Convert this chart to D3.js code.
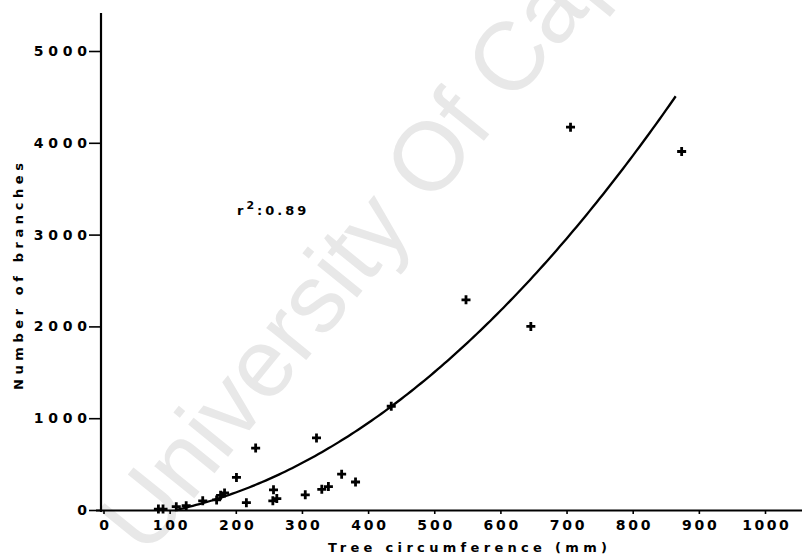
<!DOCTYPE html>
<html>
<head>
<meta charset="utf-8">
<script src="https://cdn.jsdelivr.net/npm/d3@7"></script>
<style>
  body { margin: 0; background: #fff; }
  svg { display: block; }
  .tick-label, .title, .stat { font-family: "DejaVu Sans", sans-serif; font-weight: bold; fill: #000; }
</style>
</head>
<body>
<svg id="chart" width="802" height="557"></svg>
<script>
// Tree circumference (mm) and number of branches per sampled tree
const circumference = [83, 90, 110, 125, 150, 171, 177, 183, 201, 216, 230, 257, 256, 262, 305, 322, 330, 340, 360, 381, 435, 548, 646, 706, 874];
const branches      = [10, 10, 36, 47, 100, 110, 160, 185, 355, 80, 675, 220, 100, 125, 165, 785, 225, 255, 390, 305, 1130, 2290, 2000, 4170, 3905];

// Axis ticks
const xTickValues = [0, 100, 200, 300, 400, 500, 600, 700, 800, 900, 1000];
const yTickValues = [0, 1000, 2000, 3000, 4000, 5000];

// Quadratic regression: branches = c0 + c1*x + c2*x^2, drawn over its fitted span
const fitCoefficients = [-100.2, 0.291, 0.005821];
const fitSpan = [110, 865];
const rSquared = "0.89";

const xTitle = "Tree circumference (mm)";
const yTitle = "Number of branches";
const watermarkText = "University Of Cape Town";

const svg = d3.select("#chart");

const x = d3.scaleLinear().domain([0, 1000]).range([103.5, 765]);
const y = d3.scaleLinear().domain([0, 5000]).range([510, 51]);

// Faint watermark behind everything
svg.append("text")
  .attr("transform", "translate(146,558) rotate(-51)")
  .attr("font-family", "Liberation Sans, Arial, sans-serif")
  .attr("font-size", 97)
  .attr("fill", "#e8e8e8")
  .text(watermarkText);

// Axis lines (drawn slightly past the tick range, as in the plotted frame)
svg.append("line")
  .attr("x1", 101).attr("x2", 101)
  .attr("y1", 13).attr("y2", 512)
  .attr("stroke", "#000").attr("stroke-width", 2.2);
svg.append("line")
  .attr("x1", 96).attr("x2", 802)
  .attr("y1", 510.5).attr("y2", 510.5)
  .attr("stroke", "#000").attr("stroke-width", 2.2);

// X axis ticks and labels
const xAxis = d3.axisBottom(x)
  .tickValues(xTickValues)
  .tickSize(4)
  .tickSizeOuter(0)
  .tickPadding(6)
  .tickFormat(d3.format("d"));
const gx = svg.append("g").attr("transform", "translate(0,510)").call(xAxis);
gx.select(".domain").remove();
gx.selectAll(".tick line").attr("stroke", "#000").attr("stroke-width", 1.6);
gx.selectAll(".tick text")
  .attr("class", "tick-label")
  .attr("font-size", 14)
  .attr("dy", null)
  .attr("y", 20)
  .attr("textLength", d => String(d).length * 11.6)
  .attr("lengthAdjust", "spacing");

// Y axis ticks and labels
const yAxis = d3.axisLeft(y)
  .tickValues(yTickValues)
  .tickSize(11)
  .tickSizeOuter(0)
  .tickPadding(2)
  .tickFormat(d3.format("d"));
const gy = svg.append("g").attr("transform", "translate(100,0)").call(yAxis);
gy.select(".domain").remove();
gy.selectAll(".tick line").attr("stroke", "#000").attr("stroke-width", 1.6);
gy.selectAll(".tick text")
  .attr("class", "tick-label")
  .attr("font-size", 14)
  .attr("textLength", d => String(d).length * 13.3)
  .attr("lengthAdjust", "spacing");

// Axis titles
svg.append("text")
  .attr("class", "title")
  .attr("x", 328).attr("y", 552)
  .attr("font-size", 13)
  .attr("textLength", 279)
  .attr("lengthAdjust", "spacing")
  .text(xTitle);

svg.append("text")
  .attr("class", "title")
  .attr("transform", "translate(23,390) rotate(-90)")
  .attr("font-size", 13)
  .attr("textLength", 227)
  .attr("lengthAdjust", "spacing")
  .text(yTitle);

// Regression curve
const fitY = v => fitCoefficients[0] + fitCoefficients[1] * v + fitCoefficients[2] * v * v;
const curveXs = d3.range(fitSpan[0], fitSpan[1], 5).concat([fitSpan[1]]);
svg.append("path")
  .datum(curveXs)
  .attr("fill", "none")
  .attr("stroke", "#000")
  .attr("stroke-width", 2.3)
  .attr("d", d3.line().x(v => x(v)).y(v => y(Math.max(0, fitY(v)))).curve(d3.curveMonotoneX));

// Observations as plus markers
const points = circumference.map((c, i) => ({ c, b: branches[i] }));
svg.append("g")
  .selectAll("path")
  .data(points)
  .join("path")
  .attr("transform", d => `translate(${x(d.c)},${y(d.b)})`)
  .attr("d", "M-4.5,0H4.5M0,-4.5V4.5")
  .attr("stroke", "#000")
  .attr("stroke-width", 2.8);

// Goodness of fit
const stat = svg.append("text")
  .attr("class", "stat")
  .attr("x", 237).attr("y", 215)
  .attr("font-size", 13)
  .attr("letter-spacing", 3);
stat.append("tspan").text("r");
stat.append("tspan").attr("dy", -6).attr("font-size", 11).text("2");
stat.append("tspan").attr("dy", 6).text(":" + rSquared);
</script>
</body>
</html>
